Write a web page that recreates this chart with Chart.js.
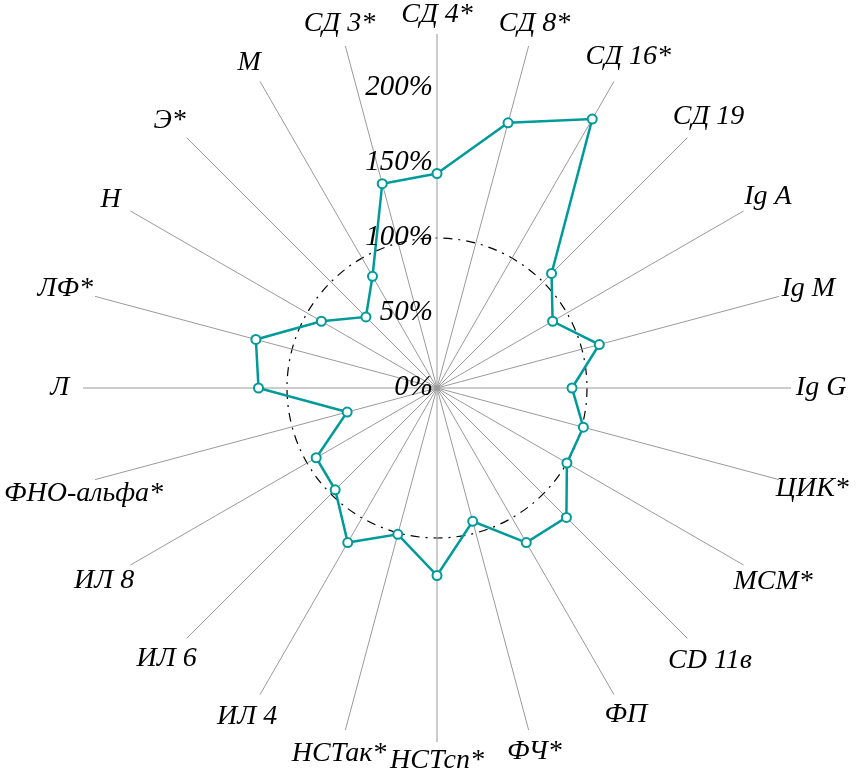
<!DOCTYPE html>
<html>
<head>
<meta charset="utf-8">
<script src="https://cdn.jsdelivr.net/npm/chart.js@4"></script>
<style>
  html, body { margin: 0; padding: 0; background: #fff; }
  #wrap { width: 865px; height: 780px; position: relative; }
</style>
</head>
<body>
<div id="wrap"><canvas id="radar"></canvas></div>
<script>
// categories, clockwise from the top
const labels = ['СД 4*', 'СД 8*', 'СД 16*', 'СД 19', 'Ig A', 'Ig M', 'Ig G', 'ЦИК*',
  'МСМ*', 'CD 11в', 'ФП', 'ФЧ*', 'НСТсп*', 'НСТак*', 'ИЛ 4', 'ИЛ 6', 'ИЛ 8',
  'ФНО-альфа*', 'Л', 'ЛФ*', 'Н', 'Э*', 'М', 'СД 3*'];

// values in % of norm
const values = [143, 183, 207, 108, 89, 112, 90, 101,
  100, 122, 119, 92, 125, 101, 119, 96, 93,
  62, 119, 125, 89, 67, 86, 141];

const tickValues = [0, 50, 100, 150, 200];
const normValue = 100;

const serif = '"Liberation Serif", "Times New Roman", serif';
const teal = '#009a9a';

// tick labels, right aligned against the vertical axis
const tickLabelPlugin = {
  id: 'tickLabels',
  afterDatasetsDraw(chart) {
    const r = chart.scales.r;
    const ctx = chart.ctx;
    ctx.save();
    ctx.font = 'italic 29px ' + serif;
    ctx.fillStyle = '#000';
    ctx.textAlign = 'right';
    ctx.textBaseline = 'middle';
    tickValues.forEach(v => {
      const y = r.yCenter - r.getDistanceFromCenterForValue(v);
      ctx.fillText(v + '%', r.xCenter - 4, y - 1);
    });
    ctx.restore();
  }
};

// category labels outside the spokes
const pointLabelPlugin = {
  id: 'outerLabels',
  afterDraw(chart) {
    const r = chart.scales.r;
    const ctx = chart.ctx;
    ctx.save();
    ctx.font = 'italic 28px ' + serif;
    ctx.fillStyle = '#000';
    ctx.textAlign = 'center';
    ctx.textBaseline = 'middle';
    labels.forEach((lab, i) => {
      const w = ctx.measureText(lab).width;
      const ang = r.getIndexAngle(i);
      const d = r.drawingArea + 19 + Math.abs(Math.sin(ang)) * w * 0.22;
      const p = r.getPointPosition(i, d);
      let x = p.x;
      x = Math.max(4 + w / 2, Math.min(chart.width - 4 - w / 2, x));
      ctx.fillText(lab, x, p.y);
    });
    ctx.restore();
  }
};

new Chart(document.getElementById('radar'), {
  type: 'radar',
  data: {
    labels: labels,
    datasets: [{
      data: values,
      borderColor: teal,
      borderWidth: 2.5,
      fill: false,
      pointRadius: 4.5,
      pointBorderWidth: 2,
      pointBorderColor: teal,
      pointBackgroundColor: '#fff'
    }]
  },
  options: {
    responsive: true,
    maintainAspectRatio: false,
    animation: false,
    layout: { padding: { top: 34, bottom: 38, left: 9, right: 0 } },
    plugins: {
      legend: { display: false },
      tooltip: { enabled: false }
    },
    elements: { line: { tension: 0 } },
    scales: {
      r: {
        min: 0,
        max: 236,
        ticks: { display: false, stepSize: 50 },
        pointLabels: { display: false },
        angleLines: { display: true, color: '#9a9a9a', lineWidth: 1 },
        grid: {
          circular: true,
          lineWidth: 1.2,
          color: c => (c.tick && c.tick.value === normValue) ? '#000' : 'rgba(0,0,0,0)'
        },
        border: { dash: [9, 6, 2, 6] }
      }
    }
  },
  plugins: [tickLabelPlugin, pointLabelPlugin]
});
</script>
</body>
</html>
